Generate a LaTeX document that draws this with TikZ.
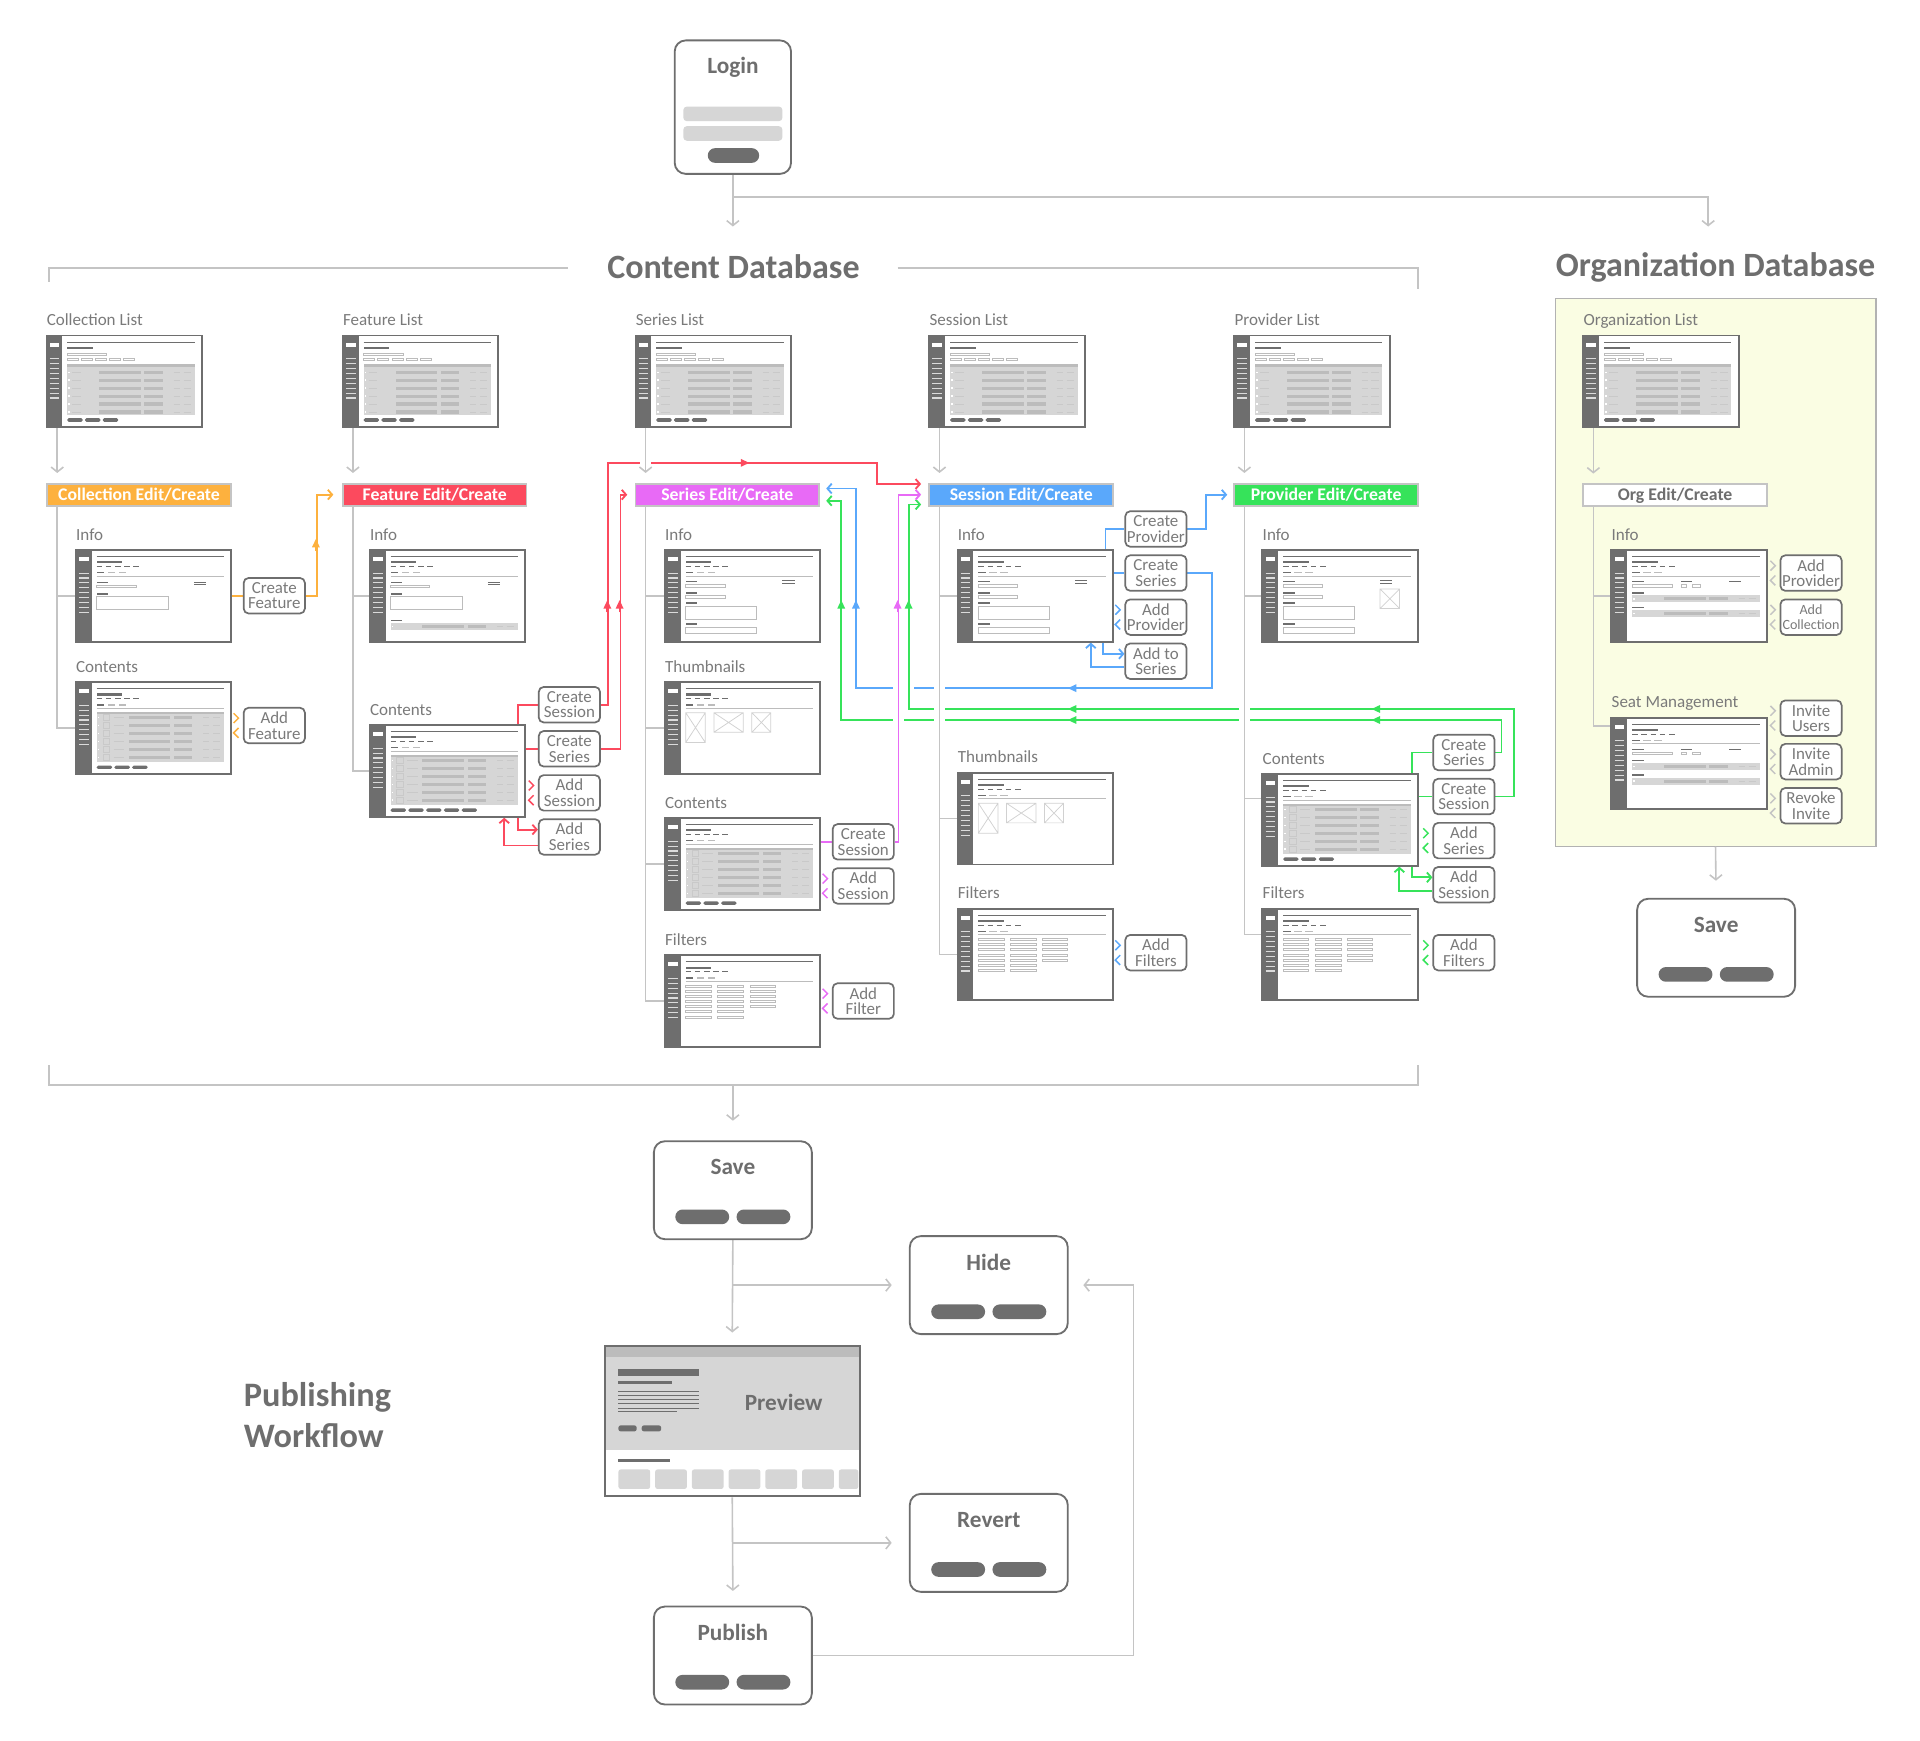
\documentclass[tikz,border=0pt]{standalone}
\usepackage{fontspec}
\setmainfont{Carlito}
\usetikzlibrary{arrows.meta, positioning, calc}

\definecolor{dk}{HTML}{6E6E6E}
\definecolor{tx}{HTML}{7A7A7A}
\definecolor{lg}{HTML}{C4C4C4}
\definecolor{tb}{HTML}{D6D6D6}
\definecolor{tc}{HTML}{BCBCBC}
\definecolor{oran}{HTML}{FDB13E}
\definecolor{redc}{HTML}{FC4A5E}
\definecolor{magc}{HTML}{E86AF6}
\definecolor{bluc}{HTML}{5AA8FB}
\definecolor{grnc}{HTML}{36E35A}
\definecolor{ylw}{HTML}{FAFDE3}

\pgfdeclarelayer{back}
\pgfdeclarelayer{lines}
\pgfsetlayers{back,lines,main}

\tikzset{
  scrbox/.style={draw=dk, line width=1.6pt, minimum width=127pt, minimum height=75pt, inner sep=0pt},
  scrlbl/.style={anchor=base west, inner sep=0pt, text=tx, font=\fontsize{13.9}{14}\selectfont},
  hdrbox/.style={draw=lg, line width=1.5pt, minimum width=150pt, minimum height=18pt, inner sep=0pt, text=white, font=\bfseries\fontsize{14.5}{14}\selectfont},
  btnbox/.style={draw=dk, fill=white, line width=1.4pt, rounded corners=4pt, minimum width=50pt, minimum height=29pt, inner sep=0pt, align=center, text=tx, font=\fontsize{13.8}{12.8}\selectfont},
  panelbox/.style={draw=dk, fill=white, line width=1.5pt, rounded corners=9pt, minimum width=129pt, minimum height=80pt, inner sep=0pt},
  paneltitle/.style={text=dk, inner sep=0pt, font=\bfseries\fontsize{19}{20}\selectfont},
  bigtitle/.style={text=dk, inner sep=0pt, font=\bfseries\fontsize{27.8}{30}\selectfont},
  gline/.style={draw=lg, line width=1.3pt},
  garrow/.style={gline, -{Straight Barb[length=4pt,width=10pt]}},
  treeline/.style={draw=lg, line width=1.3pt},
  halo/.style={preaction={draw=white, line width=9pt, -}},
  cline/.style={line width=1.5pt},
  carrow/.style={line width=1.5pt, -{Straight Barb[length=3.5pt,width=8pt]}},
  midtip/.style={line width=1.5pt, -{Triangle[length=7pt,width=6pt]}},
  thinbox/.style={draw=tc, line width=0.5pt},
  rowline/.style={draw=white!20!tc, line width=0.5pt},
  sideline/.style={draw=white!75!dk, line width=0.9pt},
  xline/.style={draw=black!18, line width=0.6pt}
}

% wireframe parts, local coordinates of a 127x75 screen
\newcommand{\scrhead}{%
  \fill[dk] (0,0) rectangle (13,75);
  \fill[white] (2.5,6) rectangle (10.5,9);
  \foreach \m in {19,23,...,51} \draw[sideline] (2.5,\m) -- (10.5,\m);
  \draw[dk, line width=0.6pt] (17,5.5) -- (121,5.5);
  \fill[dk] (17,9.3) rectangle (38,11);
}
\newcommand{\scrsub}{%
  \foreach \t in {17,24.5,...,47} \draw[dk, line width=0.5pt] (\t,13.5) -- (\t+4.5,13.5);
  \fill[dk] (17,18.2) rectangle (23,19.2);
  \fill[tc] (26,18.2) rectangle (32,19.2);
  \fill[tc] (35,18.2) rectangle (41,19.2);
  \draw[tc, line width=0.8pt] (17,21.5) -- (121,21.5);
}
\newcommand{\tblrow}[1]{%
  \fill[tc] (43,#1-1.3) rectangle (77,#1+1.3);
  \fill[tc] (80,#1-1.3) rectangle (95,#1+1.3);
  \draw[rowline] (104,#1) -- (109,#1) (112,#1) -- (118,#1);
  \fill[white] (17.8,#1-0.6) rectangle (19,#1+0.6);
}
\newcommand{\ximg}[4]{\draw[xline] (#1,#2) rectangle (#3,#4) (#1,#2) -- (#3,#4) (#1,#4) -- (#3,#2);}
\newcommand{\lstscr}{%
  \scrhead
  \draw[thinbox] (17,14.5) rectangle (49,16.5);
  \foreach \t in {17,28.5,40,51.5,63} \draw[thinbox] (\t,18.5) rectangle (\t+9,20.5);
  \fill[tb] (17,23.5) rectangle (121,65);
  \fill[tc] (17,23.5) rectangle (121,26);
  \foreach \r in {30,36.5,...,63} {\tblrow{\r}\draw[rowline] (21,\r) -- (28,\r);}
  \foreach \p in {17,31.5,46} \fill[dk, rounded corners=1.2pt] (\p,67.5) rectangle (\p+12.5,70.5);
}
\newcommand{\cntscr}[1][3]{%
  \scrhead\scrsub
  \fill[tb] (17,24.3) rectangle (121,65.4);
  \fill[tc] (17,24.3) rectangle (121,26);
  \foreach \r in {29,35.5,...,62} {\tblrow{\r}\draw[rowline] (22,\r-2.3) rectangle (27.5,\r+2.3) (30.7,\r) -- (39,\r);}
  \foreach \p in {1,...,#1} \fill[dk, rounded corners=1.2pt] ({17+14.5*(\p-1)},68.2) rectangle ({29.5+14.5*(\p-1)},71);
}
\newcommand{\infscr}{%
  \scrhead\scrsub
  \fill[dk] (17,26) rectangle (26.5,27.3);
  \draw[thinbox] (17,28.6) rectangle (49,31);
  \draw[dk, line width=0.5pt] (96.5,26.3) -- (106,26.3) (96.5,28) -- (106,28);
  \fill[dk] (17,35.6) rectangle (26.5,36.9);
  \draw[thinbox] (17,38) rectangle (75.5,49);
}
\newcommand{\infrow}{%
  \fill[dk] (17,57) rectangle (26.5,58.3);
  \fill[tb] (17,59.8) rectangle (121,65.8);
  \tblrow{62.8}
}
\newcommand{\infbscr}{%
  \scrhead\scrsub
  \fill[dk] (17,25.3) rectangle (26.5,26.5);
  \draw[thinbox] (17,28) rectangle (49,30.4);
  \draw[dk, line width=0.5pt] (96,25) -- (106,25) (96,27) -- (106,27);
  \fill[dk] (17,34.5) rectangle (26.5,35.7);
  \draw[thinbox] (17,37) rectangle (49,39.4);
  \fill[dk] (17,43) rectangle (26.5,44.2);
  \draw[thinbox] (17,46.5) rectangle (75,56.8);
  \fill[dk] (17,60) rectangle (26.5,61.2);
  \draw[thinbox] (17,63) rectangle (75,68);
}
\newcommand{\thbscr}{%
  \scrhead\scrsub
  \ximg{17}{25}{33}{49.4}\ximg{40}{25}{64}{41}\ximg{71}{25}{86.5}{41}
}
\newcommand{\fltscr}{%
  \scrhead\scrsub
  \foreach \r in {25.2,29.4,...,51} {\draw[thinbox] (17,\r-0.8) rectangle (37.8,\r+0.8); \draw[thinbox] (43,\r-0.8) rectangle (64,\r+0.8);}
  \foreach \r in {25.2,29.4,...,43} \draw[thinbox] (69.4,\r-0.8) rectangle (89.8,\r+0.8);
}
\newcommand{\orgscr}{%
  \scrhead\scrsub
  \fill[dk] (17,25.3) rectangle (26.5,26.5);
  \draw[thinbox] (17,28.3) rectangle (50,30.4);
  \fill[dk] (57,25.3) rectangle (66,26.5);
  \draw[thinbox] (57,28.3) rectangle (61.5,30.4) (66,28.3) rectangle (72.5,30.4);
  \draw[dk, line width=0.5pt] (96,26) -- (105.5,26);
  \fill[dk] (17,34.5) rectangle (26.5,35.7);
  \fill[tb] (17,37) rectangle (121,43);
  \tblrow{40}
  \fill[dk] (17,46.5) rectangle (26.5,47.7);
  \fill[tb] (17,49) rectangle (121,55);
  \tblrow{52}
}
% name, left, top, drawing, label
\newcommand{\wscreen}[5]{%
  \begin{scope}[shift={(#2,#3)}]
    \fill[white] (0,0) rectangle (127,75);
    #4
  \end{scope}
  \node[scrbox] (#1) at (#2+63.5,#3+37.5) {};
  \node[scrlbl] (#1l) at (#2,#3-8) {#5};
}
\newcommand{\chevs}[2]{%
  \begin{scope}[shift={(#2.west)}]
    \draw[#1, line width=1.2pt] (-7.5,-10) -- (-3.5,-6) -- (-7.5,-2) (-3.5,2) -- (-7.5,6) -- (-3.5,10);
  \end{scope}}
\newcommand{\pills}[1]{%
  \fill[dk, rounded corners=6pt] ([xshift=-47pt,yshift=13pt]#1.south) rectangle ++(44,-12);
  \fill[dk, rounded corners=6pt] ([xshift=3pt,yshift=13pt]#1.south) rectangle ++(44,-12);
}

\begin{document}
\begin{tikzpicture}[x=1pt, y=-1pt]
\useasboundingbox (0,0) rectangle (1568,1421);

\begin{pgfonlayer}{back}
  \node[draw=black!30, fill=ylw, line width=1pt, minimum width=262pt, minimum height=447pt, inner sep=0pt] (orgbox) at (1401,467.5) {};
\end{pgfonlayer}

% login
\node[panelbox, minimum width=95pt, minimum height=109pt] (login) at (598.5,87.5) {};
\node[paneltitle] (loginT) at (598.5,55) {Login};
\fill[tb, rounded corners=3pt] (558,87) rectangle (639,99) (558,103) rectangle (639,115);
\fill[dk, rounded corners=6pt] (578,121) rectangle (620,133);

\node[bigtitle] (cdb) at (599,218) {Content Database};
\node[bigtitle] (odb) at (1401,218) {Organization Database};

% lists
\wscreen{colList}{38}{274}{\lstscr}{Collection List}
\wscreen{featList}{280}{274}{\lstscr}{Feature List}
\wscreen{serList}{519}{274}{\lstscr}{Series List}
\wscreen{sesList}{759}{274}{\lstscr}{Session List}
\wscreen{provList}{1008}{274}{\lstscr}{Provider List}
\wscreen{orgList}{1293}{274}{\lstscr}{Organization List}

% edit/create headers
\node[hdrbox, fill=oran] (colHdr) at (113.5,404) {Collection Edit/Create};
\node[hdrbox, fill=redc] (featHdr) at (355,404) {Feature Edit/Create};
\node[hdrbox, fill=magc] (serHdr) at (594,404) {Series Edit/Create};
\node[hdrbox, fill=bluc] (sesHdr) at (834,404) {Session Edit/Create};
\node[hdrbox, fill=grnc] (provHdr) at (1083,404) {Provider Edit/Create};
\node[hdrbox, fill=white, text=dk] (orgHdr) at (1368,404.5) {Org Edit/Create};

% screens
\wscreen{colInfo}{62}{449}{\infscr}{Info}
\wscreen{colCont}{62}{557}{\cntscr}{Contents}
\wscreen{featInfo}{302}{449}{\infscr\infrow}{Info}
\wscreen{featCont}{302}{592}{\cntscr[5]}{Contents}
\wscreen{serInfo}{543}{449}{\infbscr}{Info}
\wscreen{serThumb}{543}{557}{\thbscr}{Thumbnails}
\wscreen{serCont}{543}{668}{\cntscr}{Contents}
\wscreen{serFilt}{543}{780}{\fltscr}{Filters}
\wscreen{sesInfo}{782}{449}{\infbscr}{Info}
\wscreen{sesThumb}{782}{631}{\thbscr}{Thumbnails}
\wscreen{sesFilt}{782}{742}{\fltscr}{Filters}
\wscreen{provInfo}{1031}{449}{\infbscr\ximg{96}{32}{112}{48}}{Info}
\wscreen{provCont}{1031}{632}{\cntscr}{Contents}
\wscreen{provFilt}{1031}{742}{\fltscr}{Filters}
\wscreen{orgInfo}{1316}{449}{\orgscr}{Info}
\wscreen{orgSeat}{1316}{586}{\orgscr}{Seat Management}

% buttons
\node[btnbox] (cfBtn) at (224,486.5) {Create\\Feature};
\node[btnbox] (afBtn) at (224,592.5) {Add\\Feature};
\node[btnbox] (fcsBtn) at (465,575.5) {Create\\Session};
\node[btnbox] (fcrBtn) at (465,611.5) {Create\\Series};
\node[btnbox] (fasBtn) at (465,647.5) {Add\\Session};
\node[btnbox] (farBtn) at (465,683.5) {Add\\Series};
\node[btnbox] (scsBtn) at (705,687.5) {Create\\Session};
\node[btnbox] (sasBtn) at (705,723.5) {Add\\Session};
\node[btnbox] (safBtn) at (705,817.5) {Add\\Filter};
\node[btnbox] (ecpBtn) at (944,432) {Create\\Provider};
\node[btnbox] (ecrBtn) at (944,468) {Create\\Series};
\node[btnbox] (eapBtn) at (944,504) {Add\\Provider};
\node[btnbox] (eatBtn) at (944,540) {Add to\\Series};
\node[btnbox] (eafBtn) at (944,778) {Add\\Filters};
\node[btnbox] (pcrBtn) at (1195.5,614.5) {Create\\Series};
\node[btnbox] (pcsBtn) at (1195.5,650.5) {Create\\Session};
\node[btnbox] (parBtn) at (1195.5,686.5) {Add\\Series};
\node[btnbox] (pasBtn) at (1195.5,722.5) {Add\\Session};
\node[btnbox] (pafBtn) at (1195.5,778) {Add\\Filters};
\node[btnbox] (oapBtn) at (1479,468) {Add\\Provider};
\node[btnbox, font=\fontsize{11.5}{11.5}\selectfont] (oacBtn) at (1479,504) {Add\\Collection};
\node[btnbox] (oiuBtn) at (1479,586.5) {Invite\\Users};
\node[btnbox] (oiaBtn) at (1479,622) {Invite\\Admin};
\node[btnbox] (oriBtn) at (1479,658) {Revoke\\Invite};

\chevs{oran}{afBtn}
\chevs{redc}{fasBtn}
\chevs{magc}{sasBtn}
\chevs{magc}{safBtn}
\chevs{bluc}{eapBtn}
\chevs{bluc}{eafBtn}
\chevs{grnc}{parBtn}
\chevs{grnc}{pafBtn}
\foreach \b in {oapBtn,oacBtn,oiuBtn,oiaBtn,oriBtn} {\chevs{lg}{\b}}

% org save
\node[panelbox] (orgSave) at (1401.5,774) {};
\node[paneltitle] (orgSaveT) at ([yshift=-22pt]orgSave.north) {Save};
\pills{orgSave}

% publishing workflow
\node[bigtitle, font=\bfseries\fontsize{28}{33}\selectfont, align=left, anchor=west] (pubT) at (199,1155.5) {Publishing\\Workflow};
\node[panelbox] (pubSave) at (598.5,972) {};
\node[paneltitle] (pubSaveT) at ([yshift=-22pt]pubSave.north) {Save};
\pills{pubSave}
\node[panelbox] (hide) at (807.5,1049.5) {};
\node[paneltitle] (hideT) at ([yshift=-22pt]hide.north) {Hide};
\pills{hide}
\node[panelbox] (revert) at (807.5,1260) {};
\node[paneltitle] (revertT) at ([yshift=-22pt]revert.north) {Revert};
\pills{revert}
\node[panelbox] (publish) at (598.5,1352) {};
\node[paneltitle] (publishT) at ([yshift=-22pt]publish.north) {Publish};
\pills{publish}

\fill[tb] (494,1099) rectangle (702,1184);
\fill[tc] (494,1099) rectangle (702,1108);
\fill[dk] (505,1118) rectangle (571,1124);
\fill[dk] (505,1128) rectangle (549,1130.5);
\foreach \q in {1136,1139.5,...,1150} \draw[dk, line width=0.8pt] (505,\q) -- (571,\q);
\draw[dk, line width=0.8pt] (505,1153) -- (553,1153);
\fill[dk, rounded corners=2pt] (505,1164) rectangle (520,1169) (524,1164) rectangle (540,1169);
\fill[dk] (505,1191.5) rectangle (547,1194);
\foreach \b in {505,535,...,686} \fill[tb, rounded corners=2pt] (\b,1200) rectangle ({min(\b+26,701)},1216);
\node[draw=dk, line width=1.6pt, minimum width=208pt, minimum height=123pt, inner sep=0pt] (preview) at (598,1160.5) {};
\node[paneltitle] (previewT) at (640,1145) {Preview};

\begin{pgfonlayer}{lines}
  % session create series -> series
  \draw[bluc, cline] (sesInfo.east |- ecrBtn) -- (ecrBtn.west);
  \draw[bluc, carrow, halo] (ecrBtn.east) -- ++(20,0) |- (699,562) |- ([xshift=5pt,yshift=5pt]serHdr.east);
  % provider create series -> series
  \draw[grnc, cline] ([xshift=-6pt]provCont.north east) |- (pcrBtn.west);
  \draw[grnc, carrow, halo] (pcrBtn.east) -- ++(5,0) |- (687,588) |- ([xshift=5pt,yshift=-5pt]serHdr.east);
  % provider create session -> session
  \draw[grnc, cline] (provCont.east |- pcsBtn) -- (pcsBtn.west);
  \draw[grnc, carrow, halo] (pcsBtn.east) -- ++(15,0) |- (742,579) |- ([xshift=-6pt,yshift=-8pt]sesHdr.west);
  % series create session -> session
  \draw[magc, cline] (serCont.east |- scsBtn) -- (scsBtn.west);
  \draw[magc, carrow, halo] (scsBtn.east) -- ++(3,0) |- ([xshift=-6pt]sesHdr.west);
  % feature
  \draw[redc, cline] ([xshift=-7pt]featCont.north east) |- (fcsBtn.west);
  \draw[redc, carrow, halo] (fcsBtn.east) -- ++(6,0) |- (716,378) |- ([xshift=-6pt,yshift=-1pt]sesHdr.north west);
  \draw[redc, cline] (featCont.east |- fcrBtn) -- (fcrBtn.west);
  \draw[redc, carrow, halo] (fcrBtn.east) -- ++(16,0) |- ([xshift=-6pt]serHdr.west);
  \draw[redc, carrow] ([xshift=-7pt]featCont.south east) |- ([yshift=6pt]farBtn.west);
  \draw[redc, carrow] ([yshift=-7pt]farBtn.west) -| ([xshift=-18pt]featCont.south east);
  % session
  \draw[bluc, cline] ([xshift=-7pt]sesInfo.north east) |- (ecpBtn.west);
  \draw[bluc, carrow] (ecpBtn.east) -- ++(15,0) |- ([xshift=-5pt]provHdr.west);
  \draw[bluc, carrow] ([xshift=-9pt]sesInfo.south east) |- ([yshift=6pt]eatBtn.west);
  \draw[bluc, carrow] ([yshift=-5pt]eatBtn.west) -| ([xshift=-19pt]sesInfo.south east);
  % provider
  \draw[grnc, carrow] ([xshift=-6pt]provCont.south east) |- ([yshift=6pt]pasBtn.west);
  \draw[grnc, carrow] ([yshift=-5pt]pasBtn.west) -| ([xshift=-16pt]provCont.south east);
  % collection
  \draw[oran, cline] (colInfo.east) -- (cfBtn.west);
  \draw[oran, carrow] (cfBtn.east) -- ++(9,0) |- ([xshift=-7pt]featHdr.west);

  % grey flow
  \coordinate (cdbIn) at (598.5,185);
  \coordinate (odbIn) at (1395,185);
  \draw[garrow] (login.south) -- (cdbIn);
  \draw[garrow] ([yshift=-18pt]login.south) -| (odbIn);
  \draw[gline] (40,230) |- (464,219);
  \draw[gline] (733,219) -| (1158,236);
  \draw[gline] (40,870) |- (1158,886) -- (1158,870);
  \coordinate (cdbOut) at (598.5,886);
  \draw[garrow] (cdbOut) -- ([yshift=16pt]pubSave.north);

  \coordinate (colT) at ([xshift=9pt]colHdr.south west);
  \coordinate (featT) at ([xshift=9pt]featHdr.south west);
  \coordinate (serT) at ([xshift=9pt]serHdr.south west);
  \coordinate (sesT) at ([xshift=9pt]sesHdr.south west);
  \coordinate (provT) at ([xshift=9pt]provHdr.south west);
  \coordinate (orgT) at ([xshift=9pt]orgHdr.south west);
  \foreach \l/\t/\h in {colList/colT/colHdr, featList/featT/featHdr, serList/serT/serHdr, sesList/sesT/sesHdr, provList/provT/provHdr}
    {\draw[garrow, halo, shorten >=8pt] (\t |- \l.south) -- (\t |- \h.north);}
  \draw[garrow, shorten >=8pt] (orgT |- orgList.south) -- (orgT |- orgHdr.north);

  \draw[treeline, halo] (colT) |- (colCont.west);
  \draw[treeline] (colT |- colInfo.west) -- (colInfo.west);
  \draw[treeline, halo] (featT) |- (featCont.west);
  \draw[treeline] (featT |- featInfo.west) -- (featInfo.west);
  \draw[treeline, halo] (serT) |- (serFilt.west);
  \foreach \s in {serInfo, serThumb, serCont} {\draw[treeline] (serT |- \s.west) -- (\s.west);}
  \draw[treeline, halo] (sesT) |- (sesFilt.west);
  \foreach \s in {sesInfo, sesThumb} {\draw[treeline] (sesT |- \s.west) -- (\s.west);}
  \coordinate (provFb) at ([yshift=16.5pt]provFilt.west);
  \coordinate (provCb) at ([yshift=17.5pt]provCont.west);
  \draw[treeline, halo] (provT) |- (provFb);
  \draw[treeline] (provT |- provInfo.west) -- (provInfo.west);
  \draw[treeline] (provT |- provCb) -- (provCb);
  \coordinate (orgSb) at ([yshift=30.5pt]orgSeat.west);
  \draw[treeline] (orgT) |- (orgSb);
  \draw[treeline] (orgT |- orgInfo.west) -- (orgInfo.west);
  \draw[garrow, shorten >=14pt] (orgbox.south) -- (orgSave.north);

  \draw[garrow] (pubSave.south) -- ([yshift=10pt]preview.north);
  \draw[garrow] (pubSave.south |- hide.west) -- ([xshift=-14pt]hide.west);
  \draw[garrow] (preview.south) -- ([yshift=12pt]publish.north);
  \draw[garrow] (preview.south |- revert.west) -- ([xshift=-14pt]revert.west);
  \draw[garrow] (publish.east) -| ([xshift=53pt]hide.east) -- ([xshift=12pt]hide.east);

  % arrowheads along the coloured lines
  \draw[oran, midtip] (258,450) -- (258,440);
  \draw[redc, midtip] (496,500) -- (496,490);
  \draw[redc, midtip] (506,500) -- (506,490);
  \draw[redc, midtip] (600,378) -- (612,378);
  \draw[grnc, midtip] (687,500) -- (687,490);
  \draw[bluc, midtip] (699,500) -- (699,490);
  \draw[magc, midtip] (733,500) -- (733,490);
  \draw[grnc, midtip] (742,500) -- (742,490);
  \draw[bluc, midtip] (884,562) -- (872,562);
  \draw[grnc, midtip] (884,579) -- (872,579);
  \draw[grnc, midtip] (884,588) -- (872,588);
  \draw[grnc, midtip] (1132,579) -- (1120,579);
  \draw[grnc, midtip] (1132,588) -- (1120,588);
\end{pgfonlayer}
\end{tikzpicture}
\end{document}
